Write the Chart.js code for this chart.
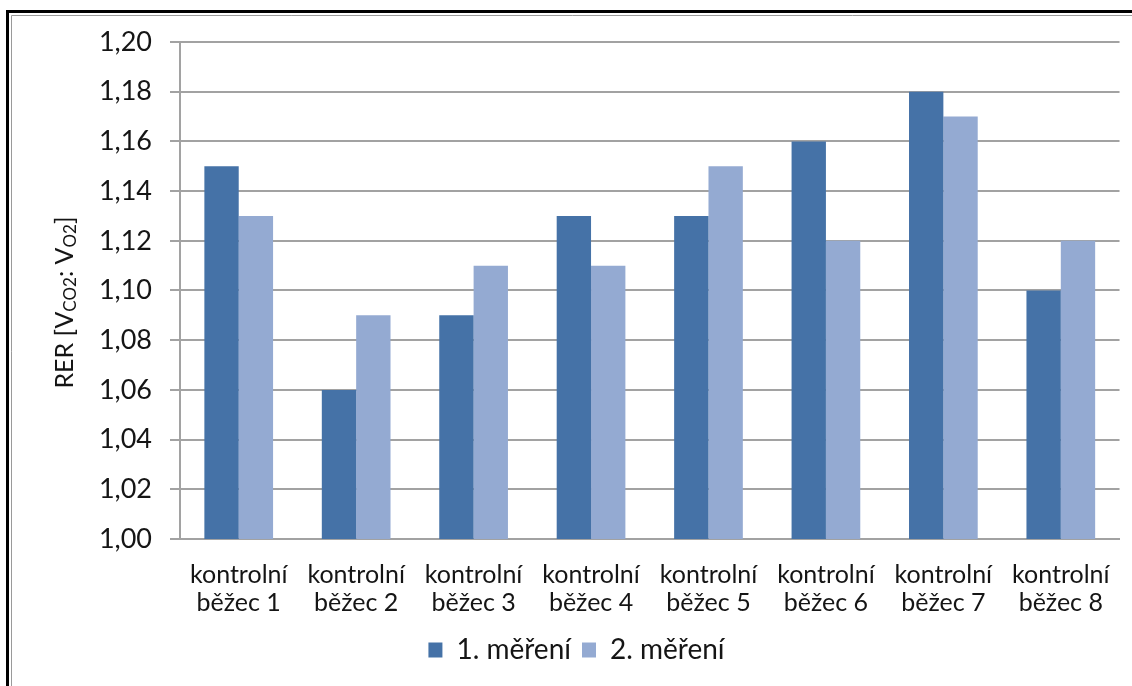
<!DOCTYPE html>
<html>
<head>
<meta charset="utf-8">
<script src="https://cdn.jsdelivr.net/npm/chart.js@4.4.1/dist/chart.umd.min.js"></script>
<style>
  html, body { margin: 0; padding: 0; background: #fff; }
  #wrap { width: 1132px; height: 686px; position: relative; }
</style>
</head>
<body>
<div id="wrap"><canvas id="c" width="1132" height="686"></canvas></div>
<script>
// RER per runner, two measurements
const categories = [
  ["kontrolní", "běžec 1"], ["kontrolní", "běžec 2"], ["kontrolní", "běžec 3"], ["kontrolní", "běžec 4"],
  ["kontrolní", "běžec 5"], ["kontrolní", "běžec 6"], ["kontrolní", "běžec 7"], ["kontrolní", "běžec 8"]
];
const mereni1 = [1.15, 1.06, 1.09, 1.13, 1.13, 1.16, 1.18, 1.10];
const mereni2 = [1.13, 1.09, 1.11, 1.11, 1.15, 1.12, 1.17, 1.12];
const seriesNames = ["1. měření", "2. měření"];
const yTicks = [1.00, 1.02, 1.04, 1.06, 1.08, 1.10, 1.12, 1.14, 1.16, 1.18, 1.20];

const FONT = "Lato, 'Open Sans', sans-serif";
const GRID = "#a2a2a2";
const TEXT = "#151515";

// white page with double frame on the left/top edges
const framePlugin = {
  id: "frame",
  beforeDraw(chart) {
    const ctx = chart.ctx;
    ctx.save();
    ctx.fillStyle = "#fff";
    ctx.fillRect(0, 0, chart.width, chart.height);
    ctx.strokeStyle = "#000";
    ctx.lineWidth = 3;
    ctx.beginPath();
    ctx.moveTo(7.5, chart.height + 5);
    ctx.lineTo(7.5, 11.5);
    ctx.lineTo(chart.width + 5, 11.5);
    ctx.stroke();
    ctx.strokeStyle = "#9a9a9a";
    ctx.lineWidth = 1;
    ctx.beginPath();
    ctx.moveTo(11.5, chart.height + 5);
    ctx.lineTo(11.5, 15.5);
    ctx.lineTo(chart.width + 5, 15.5);
    ctx.stroke();
    ctx.restore();
  }
};

// nudge the legend a little to the right of the canvas centre
const legendShift = {
  id: "legendShift",
  afterLayout(chart) {
    const lg = chart.legend;
    if (lg) { lg.left += 14; lg.right += 14; }
  }
};

// rotated y-axis title with subscripts: RER [V_CO2 : V_O2]
const yTitlePlugin = {
  id: "yTitle",
  afterDraw(chart) {
    const ctx = chart.ctx;
    const area = chart.chartArea;
    const parts = [
      { t: "RER [V", sub: false },
      { t: "CO2", sub: true },
      { t: ": V", sub: false },
      { t: "O2", sub: true },
      { t: "]", sub: false }
    ];
    const big = "25px " + FONT, small = "17px " + FONT;
    ctx.save();
    let total = 0;
    parts.forEach(p => { ctx.font = p.sub ? small : big; p.w = ctx.measureText(p.t).width; total += p.w; });
    ctx.translate(65, (area.top + area.bottom) / 2 + 12);
    ctx.rotate(-Math.PI / 2);
    ctx.fillStyle = TEXT;
    ctx.textBaseline = "middle";
    let x = -total / 2;
    parts.forEach(p => {
      ctx.font = p.sub ? small : big;
      ctx.fillText(p.t, x, p.sub ? 6 : 0);
      x += p.w;
    });
    ctx.restore();
  }
};

new Chart(document.getElementById("c"), {
  type: "bar",
  data: {
    labels: categories,
    datasets: [
      { label: seriesNames[0], data: mereni1, backgroundColor: "#4572a7" },
      { label: seriesNames[1], data: mereni2, backgroundColor: "#94aad2" }
    ]
  },
  options: {
    responsive: false,
    animation: false,
    devicePixelRatio: 1,
    layout: { padding: { left: 0, right: 7, top: 42, bottom: 12 } },
    datasets: { bar: { categoryPercentage: 0.585, barPercentage: 1.0 } },
    scales: {
      x: {
        afterFit(scale) { scale.height = 86; },
        grid: { display: false, drawTicks: false },
        border: { color: GRID, width: 2 },
        ticks: { color: TEXT, font: { family: FONT, size: 25, lineHeight: 1.12 }, padding: 22, maxRotation: 0, autoSkip: false }
      },
      y: {
        min: 1.0, max: 1.2,
        afterFit(scale) { scale.width = 180; },
        afterBuildTicks(scale) { scale.ticks = yTicks.map(v => ({ value: v })); },
        grid: { color: GRID, lineWidth: 2, tickLength: 10, tickColor: GRID },
        border: { color: GRID, width: 2 },
        ticks: {
          color: TEXT, padding: 18,
          font: { family: FONT, size: 27 },
          callback: v => Number(v).toFixed(2).replace(".", ",")
        }
      }
    },
    plugins: {
      legend: {
        position: "bottom",
        labels: { boxWidth: 14, boxHeight: 15, padding: 11, color: TEXT, font: { family: FONT, size: 28 } }
      },
      tooltip: { enabled: false }
    }
  },
  plugins: [framePlugin, legendShift, yTitlePlugin]
});
</script>
</body>
</html>
